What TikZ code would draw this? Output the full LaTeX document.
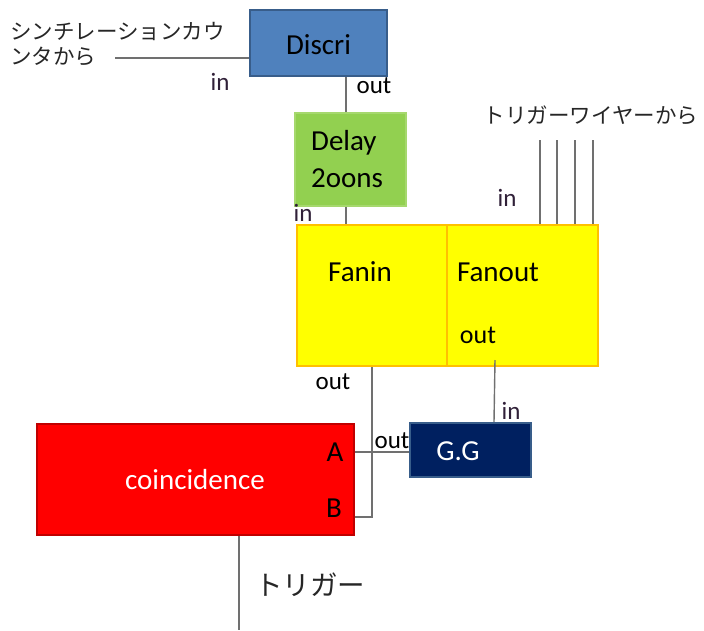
\documentclass[tikz,border=0pt]{standalone}
\usepackage{fontspec}
\setmainfont{Carlito}
\newfontfamily\jp{Noto Sans CJK JP}
\definecolor{discrifill}{HTML}{4F81BD}
\definecolor{discriline}{HTML}{385D8A}
\definecolor{delayfill}{HTML}{92D050}
\definecolor{delayline}{HTML}{A6D86E}
\definecolor{fanline}{HTML}{FFC000}
\definecolor{fanfill}{HTML}{FFFF00}
\definecolor{ggfill}{HTML}{002060}
\definecolor{coinline}{HTML}{C00000}
\definecolor{wire}{HTML}{707070}
\definecolor{inlabel}{HTML}{302038}
\tikzset{
  box/.style={draw, line width=2pt, rectangle, inner sep=0pt},
  wireline/.style={draw=wire, line width=1.4pt},
  port/.style={font=\fontsize{25}{27}\selectfont, inner sep=0pt},
  portin/.style={port, text=inlabel},
  boxtext/.style={font=\fontsize{29}{32}\selectfont, inner sep=0pt},
  jptext/.style={font=\jp\fontsize{21.5}{24}\selectfont, inner sep=0pt, text=black!85},
}
\begin{document}
\begin{tikzpicture}[x=1pt,y=-1pt]
\useasboundingbox (0,0) rectangle (704,630);
% boxes
\node[box, fill=discrifill, draw=discriline, minimum width=137pt, minimum height=66pt] (discri) at (318.5,43) {};
\node[boxtext] (discrit) at (318.5,45) {Discri};
\node[box, fill=delayfill, draw=delayline, minimum width=111pt, minimum height=93pt] (delay) at (350.5,159.5) {};
\node[boxtext, anchor=west] (delayt1) at (311,143) {Delay};
\node[boxtext, anchor=west] (delayt2) at (311,178) {2oons};
\node[box, fill=fanfill, draw=fanline, minimum width=150pt, minimum height=141pt] (fanin) at (372,295.5) {};
\node[box, fill=fanfill, draw=fanline, minimum width=151pt, minimum height=141pt] (fanout) at (522.5,295.5) {};
\node[boxtext] (fanint) at (360,272) {Fanin};
\node[boxtext] (fanoutt) at (498,272) {Fanout};
\node[port, font=\fontsize{26}{28}\selectfont] (fanoutout) at (478,335) {out};
\node[box, fill=ggfill, draw=discriline, minimum width=121pt, minimum height=54pt] (gg) at (470.5,450) {};
\node[boxtext, text=white] (ggt) at (458,451) {G.G};
\node[box, fill=red, draw=coinline, minimum width=317pt, minimum height=111pt] (coin) at (195.5,479.5) {};
\node[boxtext, text=white] (coint) at (195,480) {coincidence};
\node[boxtext] (porta) at (335,452) {A};
\node[boxtext] (portb) at (334,508) {B};
% texts
\node[jptext, anchor=west] (src1) at (10,31) {シンチレーションカウ};
\node[jptext, anchor=west] (src2) at (10,56) {ンタから};
\node[jptext, anchor=center] (trigsrc) at (591,115) {トリガーワイヤーから};
\node[jptext, font=\jp\fontsize{27.5}{30}\selectfont] (trigout) at (310,585) {トリガー};
\node[portin] (in1) at (220,82) {in};
\node[port] (out1) at (374,86) {out};
\node[portin] (in2) at (303,213) {in};
\node[portin] (in3) at (507,198) {in};
\node[port] (out2) at (333,382) {out};
\node[portin] (in4) at (511,411) {in};
\node[port] (out3) at (392,441) {out};
% coordinates
\coordinate (srcend) at (115,58);
\coordinate (xa) at (346,0);
\coordinate (xb) at (372,0);
\coordinate (xc) at (494,0);
\coordinate (yA) at (0,452);
\coordinate (yB) at (0,517);
\coordinate (w1) at (540,140);
\coordinate (w2) at (557,140);
\coordinate (w3) at (575,140);
\coordinate (w4) at (593,140);
\coordinate (trigend) at (239,630);
\coordinate (fanoutsrc) at (495,360);
% connectors
\draw[wireline] (srcend) -- (discri.west |- srcend);
\draw[wireline] (discri.south -| xa) -- (delay.north -| xa);
\draw[wireline] (delay.south -| xa) -- (fanin.north -| xa);
\foreach \w in {w1,w2,w3,w4} \draw[wireline] (\w) -- (fanout.north -| \w);
\draw[wireline] (fanin.south -| xb) -- (xb |- yB) -- (coin.east |- yB);
\draw[wireline] (fanoutsrc) -- (gg.north -| xc);
\draw[wireline] (gg.west |- yA) -- (coin.east |- yA);
\draw[wireline] (coin.south -| trigend) -- (trigend);
\end{tikzpicture}
\end{document}
